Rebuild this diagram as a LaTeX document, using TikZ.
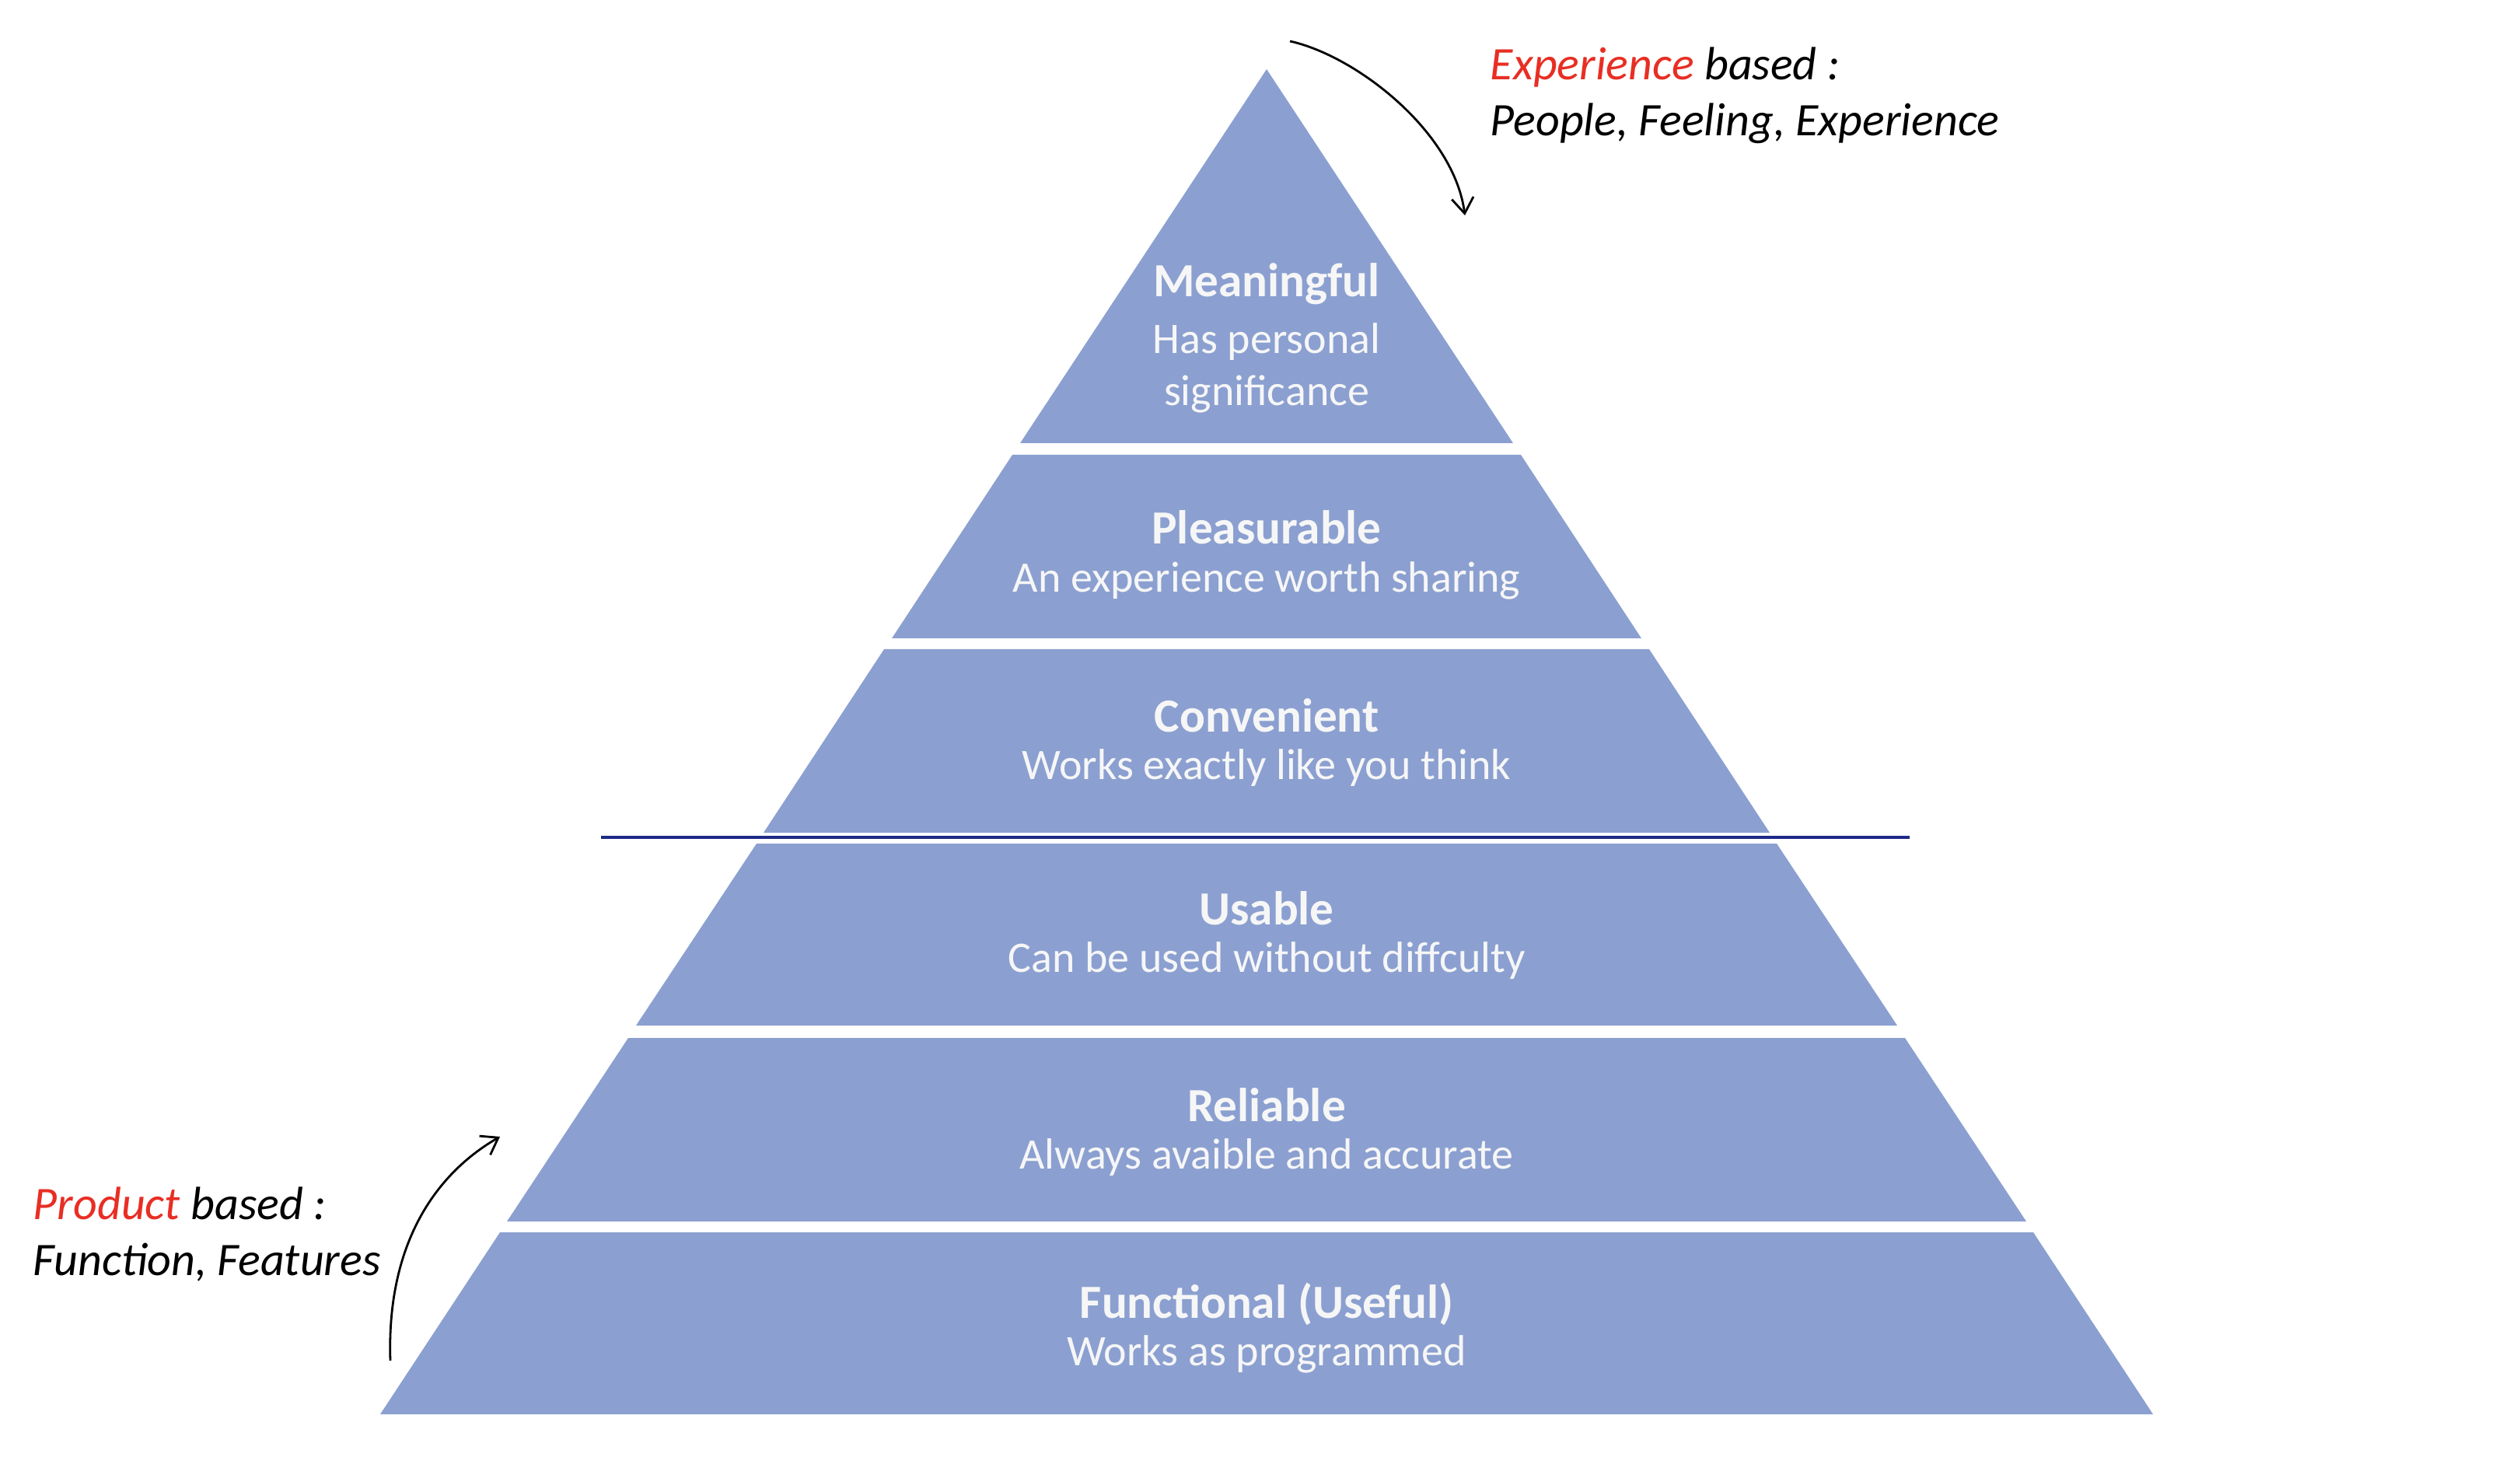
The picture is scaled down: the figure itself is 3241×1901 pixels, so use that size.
\documentclass[tikz,border=0pt]{standalone}
\usepackage{fontspec}
\setmainfont{Carlito}
\usetikzlibrary{arrows.meta}
\definecolor{tierblue}{RGB}{139,160,208}
\definecolor{tiertext}{RGB}{246,246,247}
\definecolor{navyline}{RGB}{30,42,135}
\definecolor{hlred}{RGB}{232,46,36}

\begin{document}
\begin{tikzpicture}[x=0.25pt,y=0.25pt,yscale=-1,xscale=1,
  tier/.style={fill=tierblue,draw=none},
  ttl/.style={anchor=base,inner sep=0.75pt,text=tiertext,font=\fontsize{15.3}{18}\selectfont\bfseries},
  sub/.style={anchor=base,inner sep=0.75pt,text=tiertext,font=\fontsize{14}{17}\selectfont},
  hand/.style={anchor=base west,inner sep=0pt,font=\fontsize{15}{18}\selectfont\itshape},
  curvy/.style={line width=0.7pt,-{Straight Barb[length=5pt,width=7pt]}}]
\useasboundingbox (0,0) rectangle (3241,1901);

%Shape: Triangle (top tier)
\fill [tier] (1629,89) -- (1946,570) -- (1312,570) -- cycle;
%Shape: Trapezoid
\fill [tier] (1302,585) -- (1956,585) -- (2111,821) -- (1147,821) -- cycle;
%Shape: Trapezoid
\fill [tier] (1137,835) -- (2121,835) -- (2276,1071) -- (982,1071) -- cycle;
%Shape: Trapezoid
\fill [tier] (973,1085) -- (2285,1085) -- (2440,1319) -- (818,1319) -- cycle;
%Shape: Trapezoid
\fill [tier] (808,1335) -- (2450,1335) -- (2606,1571) -- (652,1571) -- cycle;
%Shape: Trapezoid
\fill [tier] (643,1585) -- (2615,1585) -- (2769,1819) -- (489,1819) -- cycle;

%Straight Lines
\coordinate (sepL) at (773,1077);
\coordinate (sepR) at (2456,1077);
\draw [color=navyline,line width=1pt] (sepL) -- (sepR);

% Text Node
\node [ttl] (meanT) at (1629,382) {Meaningful};
\node [sub] (meanS) at (1629,455) {Has personal};
\node [sub] (meanS2) at (1629,522) {significance};
% Text Node
\node [ttl] (pleaT) at (1629,700) {Pleasurable};
\node [sub] (pleaS) at (1629,762) {An experience worth sharing};
% Text Node
\node [ttl] (convT) at (1629,942) {Convenient};
\node [sub] (convS) at (1629,1003) {Works exactly like you think};
% Text Node
\node [ttl] (usabT) at (1629,1189) {Usable};
\node [sub] (usabS) at (1629,1250) {Can be used without diffculty};
% Text Node
\node [ttl] (reliT) at (1629,1442) {Reliable};
\node [sub] (reliS) at (1629,1503) {Always avaible and accurate};
% Text Node
\node [ttl] (funcT) at (1629,1695) {Functional (Useful)};
\node [sub] (funcS) at (1629,1756) {Works as programmed};

% Text Node
\node [hand] (expTop) at (1916,103) {\textcolor{hlred}{Experience} based :};
\node [hand] (expBot) at (1916,175) {People, Feeling, Experience};
% Text Node
\node [hand] (prodTop) at (42,1568) {\textcolor{hlred}{Product} based :};
\node [hand] (prodBot) at (42,1640) {Function, Features};

%Curve Lines
\coordinate (expFrom) at (1659,53);
\coordinate (expTo) at (1884,277);
\draw [curvy] (expFrom) .. controls (1745,72) and (1870,170) .. (expTo);
%Curve Lines
\coordinate (prodFrom) at (502,1750);
\coordinate (prodTo) at (643,1462);
\draw [curvy] (prodFrom) .. controls (497,1600) and (560,1510) .. (prodTo);

\end{tikzpicture}
\end{document}
